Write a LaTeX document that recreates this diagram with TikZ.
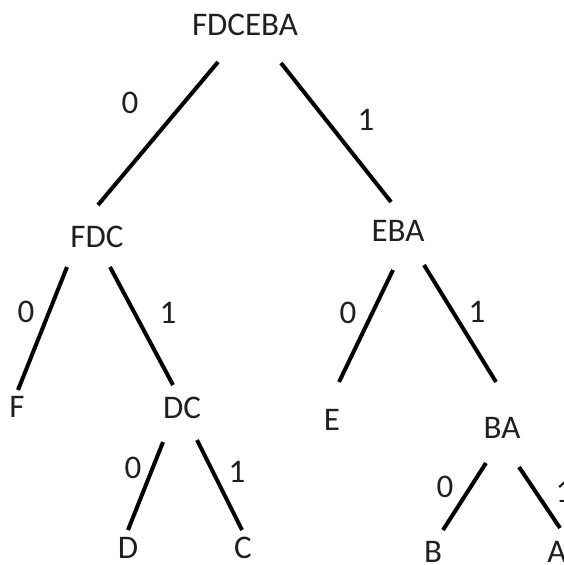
\documentclass[tikz,border=0pt]{standalone}
\usepackage{fontspec}
\setmainfont{Carlito}
\begin{document}
\begin{tikzpicture}[x=1pt,y=-1pt,
		word/.style={inner sep=0pt, text=black!88, font=\fontsize{33}{33}\selectfont},
		bit/.style={word},
		edge/.style={line width=4pt, black}]
		\useasboundingbox (0,0) rectangle (564,565);
		% codes
		\node[word] (root) at (245,25) {FDCEBA};
		\node[word] (fdc) at (97,237) {FDC};
		\node[word] (eba) at (398,231) {EBA};
		\node[word] (f) at (17,407) {F};
		\node[word] (dc) at (182,408) {DC};
		\node[word] (e) at (332,420) {E};
		\node[word] (ba) at (502,428) {BA};
		\node[word] (d) at (128,548) {D};
		\node[word] (c) at (243,548) {C};
		\node[word] (b) at (433,552) {B};
		\node[word] (a) at (557,552) {A};
		
		\draw[edge] ([shift={(-27,37)}]root.center) -- ([shift={(1,-32)}]fdc.center);
		\draw[edge] ([shift={(36,38)}]root.center) -- ([shift={(-7,-29)}]eba.center);
		\draw[edge] ([shift={(-30,30)}]fdc.center) -- ([shift={(1,-17)}]f.center);
		\draw[edge] ([shift={(13,30)}]fdc.center) -- ([shift={(-9,-23)}]dc.center);
		\draw[edge] ([shift={(-5,39)}]eba.center) -- ([shift={(7,-38)}]e.center);
		\draw[edge] ([shift={(26,34)}]eba.center) -- ([shift={(-6,-46)}]ba.center);
		\draw[edge] ([shift={(-19,34)}]dc.center) -- ([shift={(0,-18)}]d.center);
		\draw[edge] ([shift={(15,32)}]dc.center) -- ([shift={(-1,-18)}]c.center);
		\draw[edge] ([shift={(-16,35)}]ba.center) -- ([shift={(10,-22)}]b.center);
		\draw[edge] ([shift={(17,39)}]ba.center) -- ([shift={(3,-24)}]a.center);
		
		\node[bit] (b1) at (130,103) {0};
		\node[bit] (b2) at (366,120) {1};
		\node[bit] (b3) at (26,312) {0};
		\node[bit] (b4) at (168,313) {1};
		\node[bit] (b5) at (348,313) {0};
		\node[bit] (b6) at (477,312) {1};
		\node[bit] (b7) at (133,468) {0};
		\node[bit] (b8) at (237,472) {1};
		\node[bit] (b9) at (445,487) {0};
		\node[bit] (b10) at (564,492) {1};
	\end{tikzpicture}
\end{document}
